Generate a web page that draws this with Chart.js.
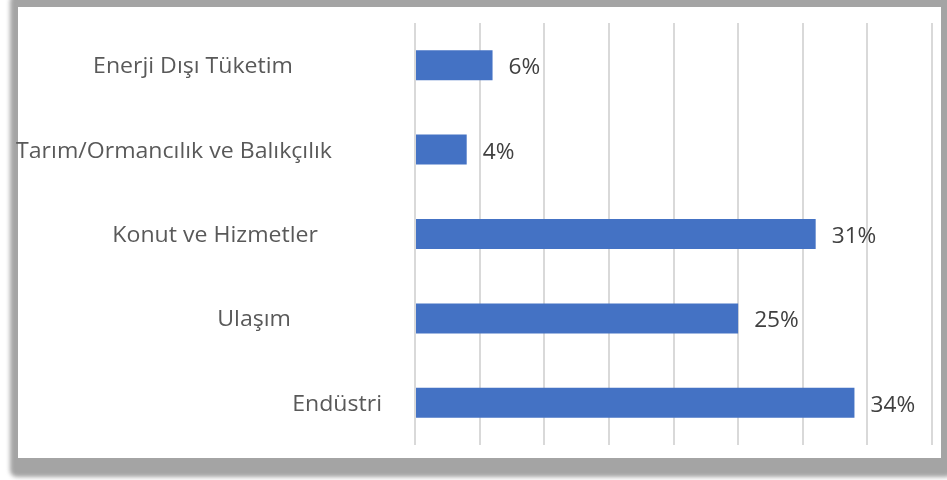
<!DOCTYPE html>
<html lang="tr">
  <head>
    <meta charset="UTF-8" />
    <title>Sektörlere Göre Enerji Tüketimi</title>
    <script src="https://cdn.jsdelivr.net/npm/chart.js"></script>
    <style>
      html, body { margin: 0; padding: 0; background: #ffffff; overflow: hidden; }
      body { width: 947px; height: 480px; position: relative; }
      /* grey shadowed frame around the chart */
      .frame {
        position: absolute; left: 10px; top: -6px; right: -6px; bottom: 3px;
        background: #a4a4a4; border-radius: 7px; filter: blur(2.2px);
      }
      .panel {
        position: absolute; left: 18px; top: 7px; right: 6px; bottom: 22px;
        background: #ffffff; filter: blur(0.6px);
      }
      #chart { position: absolute; left: 0; top: 0; }
    </style>
  </head>
  <body>
    <div class="frame"></div>
    <div class="panel"></div>
    <canvas id="chart" width="947" height="480"></canvas>
    <script>
      // sectors, top to bottom, and their share of consumption (%)
      const sectors = [
        "Enerji Dışı Tüketim",
        "Tarım/Ormancılık ve Balıkçılık",
        "Konut ve Hizmetler",
        "Ulaşım",
        "Endüstri",
      ];
      const shares = [6, 4, 31, 25, 34];
      const axisMax = 40;
      const axisStep = 5;

      // right edge (px) of each sector name, they are not aligned
      const nameRightEdge = [293, 332, 318, 291, 382];

      // draws text slightly widened, the way the labels look in the source
      function wideText(ctx, text, x, y, stretch) {
        ctx.save();
        ctx.translate(x, y);
        ctx.scale(stretch, 1);
        ctx.fillText(text, 0, 0);
        ctx.restore();
      }

      const labelsPlugin = {
        id: "sideLabels",
        afterDatasetsDraw(chart) {
          const ctx = chart.ctx;
          const xs = chart.scales.x;
          const ys = chart.scales.y;
          ctx.save();
          ctx.textBaseline = "middle";
          ctx.font = "21px 'Open Sans'";
          sectors.forEach((name, i) => {
            const y = ys.getPixelForValue(i);
            ctx.fillStyle = "#595959";
            ctx.textAlign = "right";
            wideText(ctx, name, nameRightEdge[i], y + 2, 1.1);

            ctx.fillStyle = "#404040";
            ctx.textAlign = "left";
            wideText(ctx, shares[i] + "%", xs.getPixelForValue(shares[i]) + 16, y + 3, 1.08);
          });
          ctx.restore();
        },
      };

      new Chart(document.getElementById("chart"), {
        type: "bar",
        data: {
          labels: sectors,
          datasets: [
            {
              data: shares,
              backgroundColor: "#4472C4",
              borderWidth: 0,
              barPercentage: 0.355,
              categoryPercentage: 1,
            },
          ],
        },
        options: {
          indexAxis: "y",
          responsive: false,
          devicePixelRatio: 1,
          animation: false,
          layout: { padding: { left: 415, right: 15, top: 23, bottom: 35 } },
          plugins: { legend: { display: false }, tooltip: { enabled: false } },
          scales: {
            x: {
              min: 0,
              max: axisMax,
              ticks: { display: false, stepSize: axisStep },
              grid: { color: "#d9d9d9", lineWidth: 2, drawTicks: false },
              border: { display: false },
            },
            y: { display: false },
          },
        },
        plugins: [labelsPlugin],
      });
    </script>
  </body>
</html>
